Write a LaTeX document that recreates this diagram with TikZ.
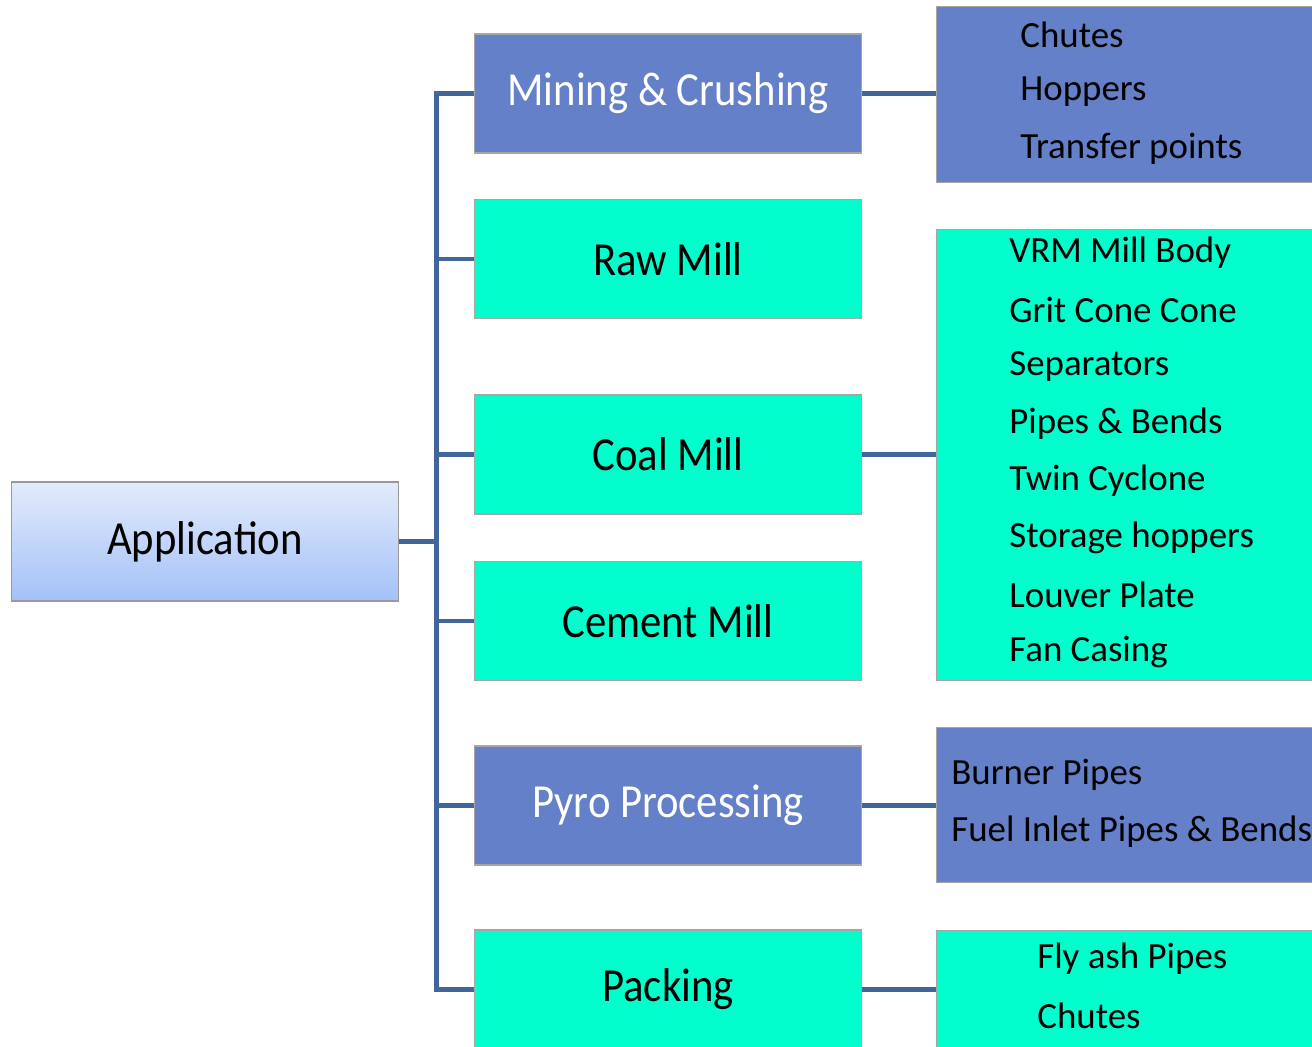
\documentclass[tikz,border=0pt]{standalone}
\usepackage{fontspec}
\setmainfont{Carlito}
\newfontfamily\stagefont[FakeStretch=0.9]{Carlito}
\usetikzlibrary{shapes, positioning, calc}

\definecolor{stageblue}{HTML}{6380C8}
\definecolor{stagecyan}{HTML}{00FFCC}
\definecolor{linkblue}{HTML}{41679A}
\definecolor{applight}{HTML}{E3EBFB}
\definecolor{appdark}{HTML}{A3C1F8}

\tikzset{
  stage/.style={draw=black!35, line width=0.6pt, minimum width=7.76cm, minimum height=2.38cm, inner sep=0pt, font=\stagefont\fontsize{27}{30}\selectfont},
  partbox/.style={draw=black!35, line width=0.6pt, anchor=north west, inner sep=0pt},
  part/.style={anchor=west, inner sep=0pt, font=\fontsize{21}{23}\selectfont},
  link/.style={draw=linkblue, line width=2.3pt, line join=miter}
}

\begin{document}
\begin{tikzpicture}[x=0.02cm, y=-0.02cm]
  \newcommand\itemgap{57} % line pitch in the part lists
  \useasboundingbox (0,0) rectangle (1312,1047);
  \clip (0,0) rectangle (1312,1047);

  \node[stage, top color=applight, bottom color=appdark, draw=black!40] at (205,541.5) (app) {Application};

  \node[stage, fill=stageblue, text=white] at (668,93.5) (mining) {Mining \& Crushing};
  \node[stage, fill=stagecyan] at (668,259) (raw) {Raw Mill};
  \node[stage, fill=stagecyan] at (668,454.5) (coal) {Coal Mill};
  \node[stage, fill=stagecyan] at (668,621) (cement) {Cement Mill};
  \node[stage, fill=stageblue, text=white] at (668,805.5) (pyro) {Pyro Processing};
  \node[stage, fill=stagecyan] at (668,989.5) (packing) {Packing};

  % tree from the application box
  \foreach \st in {mining, raw, coal, cement, pyro, packing}{
    \draw[link] (app.east) -- ++(37,0) |- (\st.west);
  }

  % part lists
  \node[partbox, fill=stageblue, minimum width=8cm, minimum height=3.52cm] at (936,6) (miningparts) {};
  \node[partbox, fill=stagecyan, minimum width=8cm, minimum height=9.02cm] at (936,229) (coalparts) {};
  \node[partbox, fill=stageblue, minimum width=8cm, minimum height=3.1cm] at (936,727) (pyroparts) {};
  \node[partbox, fill=stagecyan, minimum width=8cm, minimum height=2.38cm] at (936,930) (packingparts) {};

  \draw[link] (mining.east) -- (mining.east -| miningparts.west);
  \draw[link] (coal.east) -- (coal.east -| coalparts.west);
  \draw[link] (pyro.east) -- (pyro.east -| pyroparts.west);
  \draw[link] (packing.east) -- (packing.east -| packingparts.west);

  \foreach \part [count=\i from 0] in {Chutes, Hoppers, Transfer points}{
    \node[part] at (1020,35+\itemgap*\i) (mp\i) {\part};
  }
  \foreach \part [count=\i from 0] in {VRM Mill Body, Grit Cone Cone, Separators, Pipes \& Bends, Twin Cyclone, Storage hoppers, Louver Plate, Fan Casing}{
    \node[part] at (1009,253+\itemgap*\i) (cp\i) {\part};
  }
  \foreach \part [count=\i from 0] in {Burner Pipes, Fuel Inlet Pipes \& Bends}{
    \node[part] at (951,775+\itemgap*\i) (pp\i) {\part};
  }
  \foreach \part [count=\i from 0] in {Fly ash Pipes, Chutes}{
    \node[part] at (1037,959+\itemgap*\i) (kp\i) {\part};
  }
\end{tikzpicture}
\end{document}
